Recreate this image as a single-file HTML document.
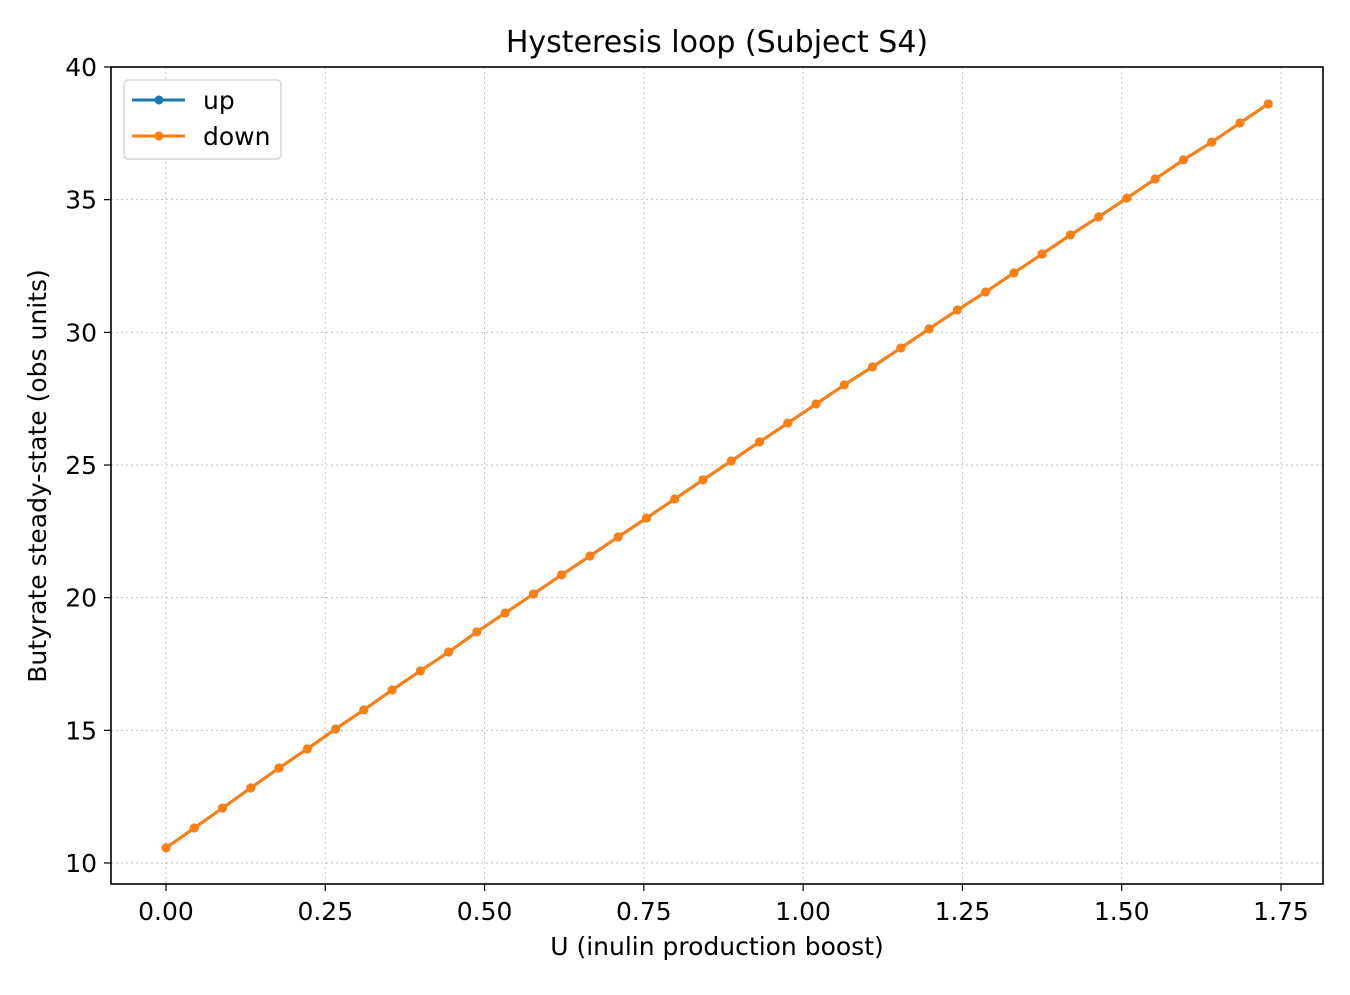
<!DOCTYPE html>
<html><head><meta charset="utf-8"><style>
body{margin:0;background:#fff}
svg text{font-family:"DejaVu Sans","Liberation Sans",sans-serif;fill:#000}
</style></head><body>
<svg id="chart" width="1350" height="990" xmlns="http://www.w3.org/2000/svg">
<rect width="1350" height="990" fill="#fff"/>
<g id="grid"></g>
<g id="series"></g>
<rect x="111" y="67" width="1212" height="817" fill="none" stroke="#000" stroke-width="1.6"/>
<g id="ticks"></g>
<text x="717" y="52" font-size="30" text-anchor="middle">Hysteresis loop (Subject S4)</text>
<text x="717" y="955" font-size="25" text-anchor="middle">U (inulin production boost)</text>
<text transform="translate(46,476) rotate(-90)" font-size="25" text-anchor="middle">Butyrate steady-state (obs units)</text>
<g>
<rect x="124" y="80" width="157" height="79" rx="4" fill="#fff" stroke="#d6d6d6" stroke-width="1.5"/>
<g>
<line x1="132" y1="100" x2="185" y2="100" stroke="#1f77b4" stroke-width="3"/><circle cx="159" cy="100" r="4.5" fill="#1f77b4"/>
<text x="203" y="109" font-size="25">up</text></g>
<g>
<line x1="132" y1="136" x2="185" y2="136" stroke="#ff7f0e" stroke-width="3"/><circle cx="159" cy="136" r="4.5" fill="#ff7f0e"/>
<text x="203" y="145" font-size="25">down</text></g>
</g>
</svg>
<script>
const xTicks=[0,0.25,0.5,0.75,1.0,1.25,1.5,1.75];
const xTickLabels=["0.00","0.25","0.50","0.75","1.00","1.25","1.50","1.75"];
const yTicks=[10,15,20,25,30,35,40];
const uValues=[0,0.0444,0.0887,0.1331,0.1774,0.2218,0.2662,0.3105,0.3549,0.3992,0.4436,0.4879,0.5323,0.5767,0.621,0.6654,0.7097,0.7541,0.7985,0.8428,0.8872,0.9315,0.9759,1.0203,1.0646,1.109,1.1533,1.1977,1.2421,1.2864,1.3308,1.3751,1.4195,1.4638,1.5082,1.5526,1.5969,1.6413,1.6856,1.73];
const upValues=[10.57,11.32,12.07,12.83,13.58,14.30,15.05,15.77,16.52,17.24,17.95,18.71,19.42,20.14,20.86,21.57,22.29,23.00,23.72,24.44,25.15,25.87,26.58,27.30,28.02,28.70,29.41,30.13,30.84,31.52,32.24,32.95,33.67,34.35,35.06,35.78,36.50,37.17,37.89,38.61];
const downValues=upValues.slice();
const NS="http://www.w3.org/2000/svg";
const xs=v=>166+v*(1281-166)/1.75;
const ys=v=>863-(v-10)*(863-67)/30;
function mk(t,a,p){const e=document.createElementNS(NS,t);for(const k in a)e.setAttribute(k,a[k]);p.appendChild(e);return e;}
const grid=document.getElementById('grid'),ticks=document.getElementById('ticks'),series=document.getElementById('series');
xTicks.forEach((v,i)=>{const x=xs(v);
 const g=mk('line',{x1:x,x2:x,y1:67,y2:884,stroke:'#b0b0b0','stroke-width':1,'stroke-dasharray':'2,3',opacity:0.8},grid);
 
 
 mk('line',{x1:x,x2:x,y1:884,y2:891,stroke:'#000','stroke-width':1.2},ticks);
 const t=mk('text',{x:x,y:920,'font-size':25,'text-anchor':'middle'},ticks);t.textContent=xTickLabels[i];
 
 
});
yTicks.forEach(v=>{const y=ys(v);
 const g=mk('line',{x1:111,x2:1323,y1:y,y2:y,stroke:'#b0b0b0','stroke-width':1,'stroke-dasharray':'2,3',opacity:0.8},grid);
 
 
 mk('line',{x1:104,x2:111,y1:y,y2:y,stroke:'#000','stroke-width':1.2},ticks);
 const t=mk('text',{x:97,y:y+9,'font-size':25,'text-anchor':'end'},ticks);t.textContent=v;
 
 
});
function draw(vals,color,name){
 const pts=uValues.map((u,i)=>xs(u)+','+ys(vals[i])).join(' ');
 const pl=mk('polyline',{points:pts,fill:'none',stroke:color,'stroke-width':3,'stroke-linejoin':'round'},series);
 
 
 uValues.forEach((u,i)=>{const c=mk('circle',{cx:xs(u),cy:ys(vals[i]),r:4.5,fill:color},series);
  
  });
}
draw(upValues,'#1f77b4','up');
draw(downValues,'#ff7f0e','down');
</script>
</body></html>
